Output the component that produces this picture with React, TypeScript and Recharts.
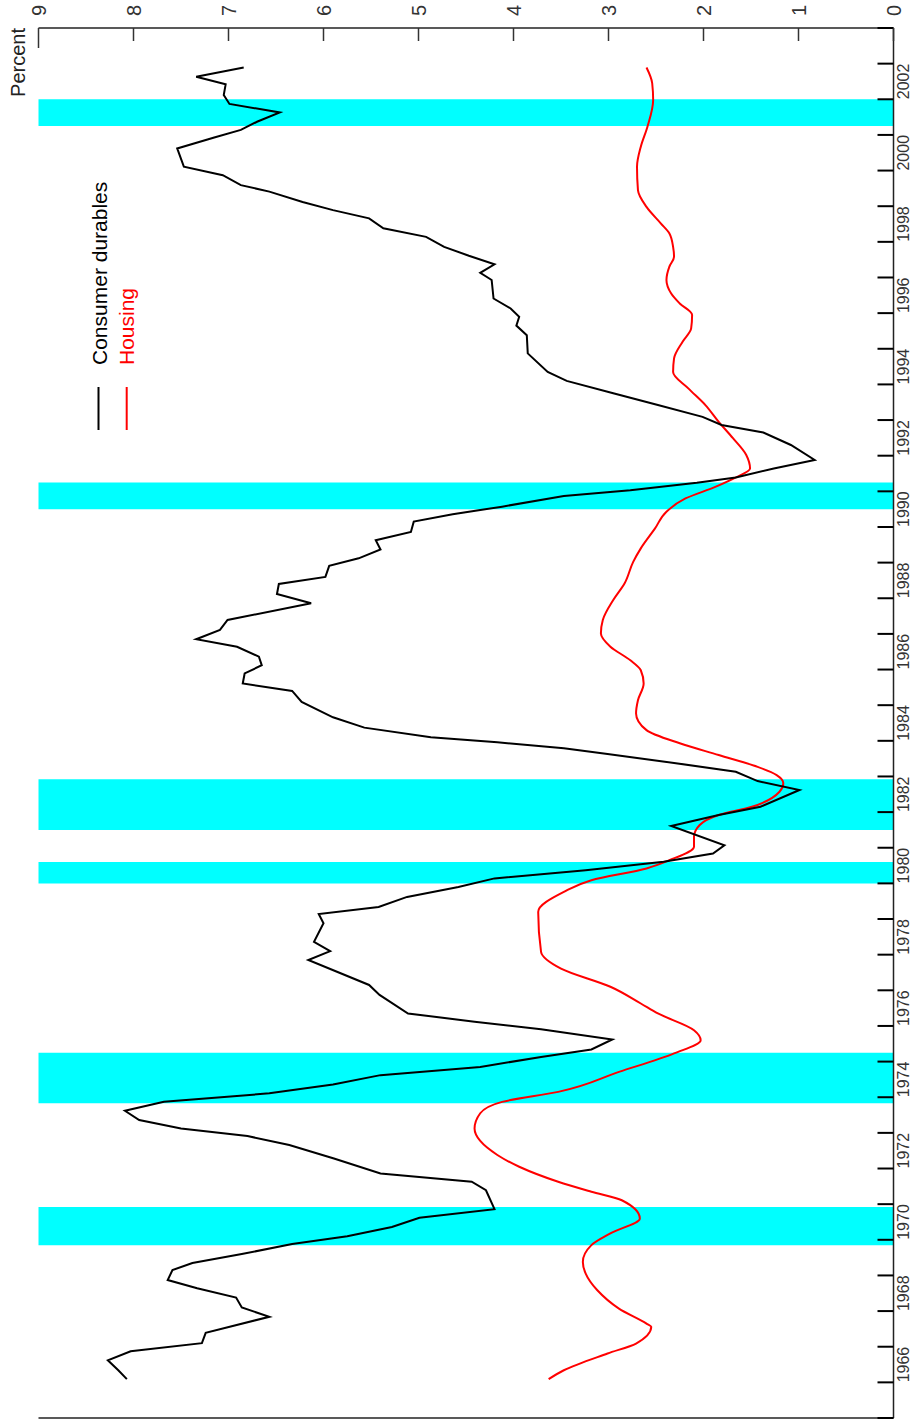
import React from "react";
import { LineChart, Line, XAxis, YAxis, ReferenceArea } from "recharts";

// The chart is drawn as an ordinary time chart and then turned a quarter turn
// counter-clockwise, so years end up running up the right-hand side.

const durablesDates = [
  1966.09, 1966.34, 1966.62, 1966.87, 1967.1, 1967.39, 1967.84, 1968.1, 1968.38, 1968.64,
  1968.87, 1969.15, 1969.35, 1969.6, 1969.88, 1970.1, 1970.36, 1970.62, 1970.86, 1971.39,
  1971.63, 1971.86, 1972.28, 1972.66, 1972.91, 1973.12, 1973.36, 1973.62, 1973.87, 1974.11,
  1974.36, 1974.62, 1974.85, 1975.13, 1975.34, 1975.62, 1975.91, 1976.12, 1976.35, 1976.87,
  1977.15, 1977.85, 1978.1, 1978.36, 1978.88, 1979.14, 1979.34, 1979.62, 1979.9, 1980.14,
  1980.37, 1980.61, 1980.84, 1981.07, 1981.61, 1981.92, 1982.15, 1982.62, 1982.87, 1983.13,
  1983.38, 1983.63, 1983.79, 1983.96, 1984.1, 1984.37, 1984.66, 1985.09, 1985.4, 1985.61,
  1985.89, 1986.12, 1986.36, 1986.64, 1986.85, 1987.11, 1987.39, 1987.86, 1988.12, 1988.4,
  1988.6, 1988.91, 1989.12, 1989.37, 1989.63, 1989.86, 1990.15, 1990.36, 1990.57, 1990.87,
  1991.03, 1991.24, 1991.39, 1991.64, 1991.88, 1992.3, 1992.65, 1992.86, 1993.09, 1993.42,
  1993.75, 1994.1, 1994.35, 1994.87, 1995.38, 1995.65, 1995.9, 1996.13, 1996.41, 1996.93,
  1997.13, 1997.37, 1997.61, 1997.86, 1998.14, 1998.38, 1998.66, 1998.89, 1999.12, 1999.41,
  1999.59, 1999.87, 2000.11, 2000.62, 2000.93, 2001.14, 2001.37, 2001.63, 2001.87, 2002.12,
  2002.42, 2002.63, 2002.89,
];
const durables = [
  8.07, 8.16, 8.27, 8.03, 7.28, 7.24, 6.57, 6.86, 6.92, 7.33,
  7.64, 7.59, 7.38, 6.86, 6.33, 5.75, 5.28, 4.99, 4.2, 4.29,
  4.44, 5.4, 5.89, 6.36, 6.8, 7.5, 7.94, 8.09, 7.68, 6.57,
  5.9, 5.4, 4.35, 3.71, 3.18, 2.96, 3.71, 4.41, 5.11, 5.41,
  5.52, 6.16, 5.93, 6.1, 6.0, 6.05, 5.42, 5.12, 4.58, 4.2,
  3.24, 2.42, 1.9, 1.78, 2.34, 1.84, 1.4, 0.99, 1.43, 1.66,
  2.31, 3.01, 3.47, 4.17, 4.87, 5.57, 5.9, 6.23, 6.33, 6.85,
  6.83, 6.65, 6.68, 6.91, 7.34, 7.09, 7.01, 6.13, 6.49, 6.47,
  5.98, 5.94, 5.63, 5.4, 5.45, 5.08, 5.05, 4.64, 4.12, 3.47,
  2.77, 2.07, 1.66, 1.26, 0.83, 1.08, 1.37, 1.81, 2.01, 2.48,
  2.95, 3.44, 3.64, 3.85, 3.86, 3.97, 3.94, 4.03, 4.21, 4.23,
  4.35, 4.2, 4.47, 4.73, 4.92, 5.37, 5.52, 5.9, 6.22, 6.57,
  6.87, 7.06, 7.47, 7.54, 7.15, 6.87, 6.7, 6.46, 6.99, 7.05,
  7.03, 7.34, 6.84,
];

const housingDates = [
  1966.09, 1966.34, 1966.81, 1967.09, 1967.56, 1967.65, 1968.07, 1968.59, 1969.05, 1969.38,
  1969.85, 1970.18, 1970.6, 1971.11, 1971.35, 1971.63, 1972.05, 1972.38, 1973.12, 1973.55,
  1973.87, 1974.15, 1974.71, 1975.23, 1975.6, 1975.88, 1976.35, 1976.63, 1977.1, 1977.61,
  1978.08, 1979.2, 1979.76, 1980.09, 1980.42, 1980.65, 1981.03, 1981.31, 1981.64, 1981.92,
  1982.15, 1982.57, 1982.81, 1983.04, 1983.27, 1983.6, 1983.93, 1984.3, 1984.77, 1985.14,
  1985.61, 1985.98, 1986.26, 1986.64, 1987.01, 1987.39, 1987.95, 1988.42, 1989.02, 1989.4,
  1989.96, 1990.43, 1990.8, 1991.13, 1991.39, 1991.64, 1992.02, 1992.49, 1992.95, 1993.42,
  1993.89, 1994.35, 1994.73, 1995.2, 1995.57, 1995.95, 1996.27, 1996.55, 1996.93, 1997.3,
  1997.58, 1997.86, 1998.24, 1998.52, 1998.98, 1999.45, 2000.11, 2000.67, 2001.23, 2001.98,
  2002.45, 2002.89,
];
const housing = [
  3.63, 3.47, 3.01, 2.71, 2.55, 2.6, 2.89, 3.12, 3.24, 3.27,
  3.18, 2.98, 2.67, 2.86, 3.18, 3.53, 3.94, 4.17, 4.41, 4.35,
  4.12, 3.53, 2.89, 2.31, 2.03, 2.1, 2.48, 2.66, 2.98, 3.5,
  3.71, 3.74, 3.47, 3.18, 2.6, 2.36, 2.1, 2.1, 2.04, 1.84,
  1.49, 1.2, 1.16, 1.23, 1.43, 1.84, 2.25, 2.6, 2.71, 2.69,
  2.63, 2.66, 2.77, 2.98, 3.08, 3.06, 2.95, 2.83, 2.74, 2.66,
  2.51, 2.39, 2.19, 1.87, 1.66, 1.51, 1.55, 1.69, 1.84, 1.98,
  2.16, 2.32, 2.31, 2.22, 2.13, 2.12, 2.25, 2.34, 2.39, 2.36,
  2.31, 2.32, 2.36, 2.45, 2.6, 2.69, 2.7, 2.66, 2.59, 2.53,
  2.54, 2.6,
];

const recessionStarts = [1969.85, 1973.83, 1980.0, 1981.5, 1990.5, 2001.25];
const recessionEnds = [1970.92, 1975.25, 1980.6, 1982.92, 1991.25, 2002.0];

const percentTicks = [0, 1, 2, 3, 4, 5, 6, 7, 8, 9];
const yearMarks = [
  1965, 1966, 1967, 1968, 1969, 1970, 1971, 1972, 1973, 1974,
  1975, 1976, 1977, 1978, 1979, 1980, 1981, 1982, 1983, 1984,
  1985, 1986, 1987, 1988, 1989, 1990, 1991, 1992, 1993, 1994,
  1995, 1996, 1997, 1998, 1999, 2000, 2001, 2002, 2003, 2004,
];
const yearLabels = [
  1966, 1968, 1970, 1972, 1974, 1976, 1978, 1980, 1982, 1984,
  1986, 1988, 1990, 1992, 1994, 1996, 1998, 2000, 2002,
];

const durablesData = durablesDates.map((year, i) => ({ year, v: durables[i] }));
const housingData = housingDates.map((year, i) => ({ year, v: housing[i] }));
// labels sit in the middle of their year, tick marks at the year boundaries
const xTicks = [...yearMarks, ...yearLabels.map((y) => y + 0.5)];

const W = 1421;
const H = 916;
const font = "'Liberation Sans', Arial, Helvetica, sans-serif";

function YearTick(props: any) {
  const { x, y, payload } = props;
  const v = payload.value;
  if (Number.isInteger(v)) {
    return <line x1={x} x2={x} y1={y} y2={y - 16} stroke="#000" strokeWidth={2} />;
  }
  return (
    <text x={x} y={y + 15} textAnchor="middle" fontSize={16} fontFamily={font} fill="#333">
      {Math.floor(v)}
    </text>
  );
}

function PercentTick(props: any) {
  const { x, y, payload } = props;
  const len = payload.value === 9 ? 20 : 13;
  return (
    <g>
      <line x1={x} x2={x - len} y1={y} y2={y} stroke="#333" strokeWidth={1.5} />
      <text x={x + 12} y={y + 7} fontSize={20} fontFamily={font} fill="#333">
        {payload.value}
      </text>
    </g>
  );
}

function LeftTick(props: any) {
  const { x, y, payload } = props;
  const len = payload.value === 9 ? 21 : 13;
  return <line x1={x} x2={x + len} y1={y} y2={y} stroke="#333" strokeWidth={1.5} />;
}

export default function App() {
  return (
    <div style={{ position: "absolute", left: 0, top: 0, width: 916, height: 1421, overflow: "hidden", background: "#fff" }}>
      <div
        style={{
          position: "absolute",
          left: 0,
          top: 0,
          width: W,
          height: H,
          transformOrigin: "0 0",
          transform: `translateY(${W}px) rotate(-90deg)`,
        }}
      >
        <LineChart width={W} height={H} margin={{ top: 38.5, right: 0, bottom: 0, left: 0 }}>
          <XAxis
            dataKey="year"
            type="number"
            domain={[1965, 2004]}
            allowDataOverflow
            ticks={xTicks}
            interval={0}
            tick={YearTick}
            tickLine={false}
            tickSize={0}
            tickMargin={0}
            height={22.5}
            axisLine={{ stroke: "#222", strokeWidth: 1.5 }}
          />
          <YAxis
            yAxisId="left"
            orientation="left"
            type="number"
            domain={[0, 9]}
            ticks={percentTicks}
            interval={0}
            tick={LeftTick}
            tickLine={false}
            tickSize={0}
            tickMargin={0}
            width={3}
            axisLine={{ stroke: "#222", strokeWidth: 1.5 }}
          />
          <YAxis
            yAxisId="right"
            orientation="right"
            type="number"
            domain={[0, 9]}
            ticks={percentTicks}
            interval={0}
            tick={PercentTick}
            tickLine={false}
            tickSize={0}
            tickMargin={0}
            width={28}
            axisLine={{ stroke: "#222", strokeWidth: 1.5 }}
          />
          {recessionStarts.map((s, i) => (
            <ReferenceArea
              key={s}
              yAxisId="right"
              x1={s}
              x2={recessionEnds[i]}
              fill="#00ffff"
              fillOpacity={1}
              stroke="none"
            />
          ))}
          <Line
            yAxisId="right"
            data={housingData}
            dataKey="v"
            type="monotone"
            stroke="#ff0000"
            strokeWidth={2}
            dot={false}
            isAnimationActive={false}
          />
          <Line
            yAxisId="right"
            data={durablesData}
            dataKey="v"
            type="linear"
            stroke="#000"
            strokeWidth={2}
            dot={false}
            isAnimationActive={false}
          />
        </LineChart>
        <svg
          width={W}
          height={H}
          style={{ position: "absolute", left: 0, top: 0, pointerEvents: "none" }}
        >
          <text x={1393} y={24.5} textAnchor="end" fontSize={20} fontFamily={font} fill="#222">
            Percent
          </text>
          <line x1={991} x2={1034} y1={98.5} y2={98.5} stroke="#000" strokeWidth={2} />
          <text x={1056} y={106.5} fontSize={21} fontFamily={font} fill="#000">
            Consumer durables
          </text>
          <line x1={991} x2={1034} y1={126.7} y2={126.7} stroke="#ff0000" strokeWidth={2} />
          <text x={1056} y={133.5} fontSize={21} fontFamily={font} fill="#ff0000">
            Housing
          </text>
        </svg>
      </div>
    </div>
  );
}
